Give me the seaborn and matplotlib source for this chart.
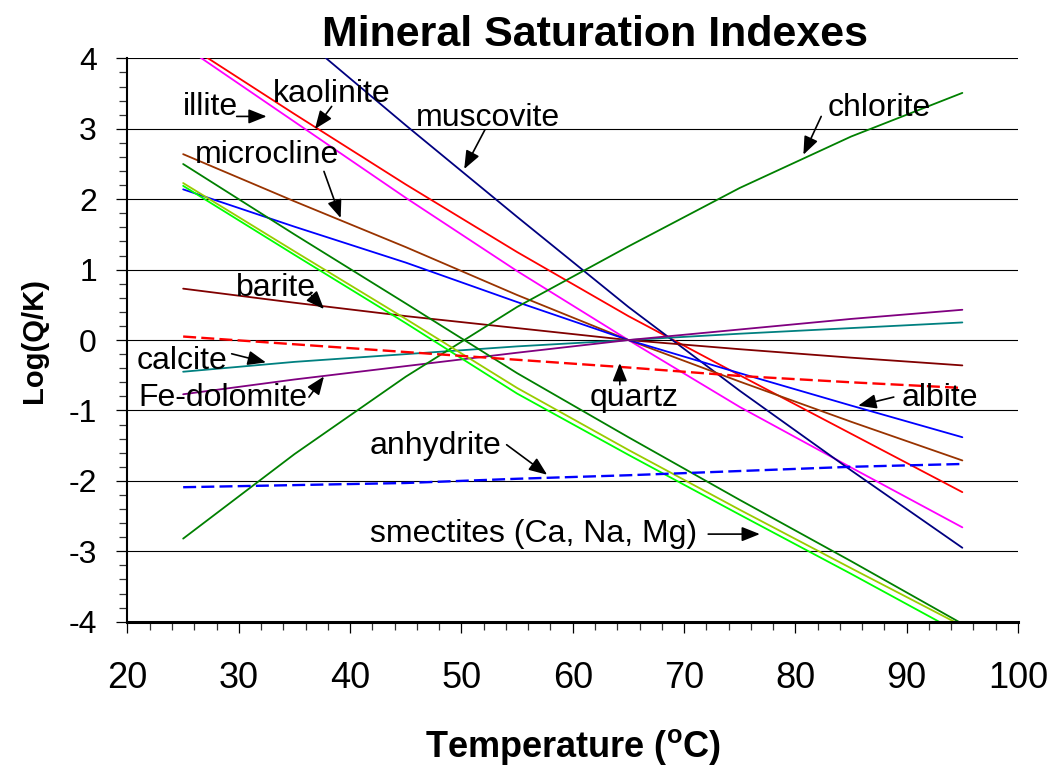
import numpy as np
import pandas as pd
import matplotlib
matplotlib.use("Agg")
import matplotlib.pyplot as plt
import seaborn as sns

# Temperatures (°C) at which saturation indexes were computed
temperature = [25, 35, 45, 55, 65, 75, 85, 95]

# log(Q/K) for each mineral at those temperatures
illite = [4.18, 3.10, 2.02, 0.98, 0.00, -0.95, -1.81, -2.66]
kaolinite = [4.23, 3.21, 2.21, 1.25, 0.34, -0.50, -1.33, -2.16]
muscovite = [5.72, 4.38, 3.05, 1.75, 0.47, -0.72, -1.85, -2.95]
microcline = [2.64, 1.97, 1.32, 0.64, 0.00, -0.59, -1.16, -1.71]
albite = [2.14, 1.61, 1.10, 0.54, 0.00, -0.47, -0.93, -1.38]
barite = [0.73, 0.53, 0.34, 0.17, 0.00, -0.13, -0.25, -0.36]
quartz = [0.05, -0.06, -0.17, -0.28, -0.39, -0.51, -0.60, -0.68]
calcite = [-0.45, -0.31, -0.20, -0.09, 0.00, 0.09, 0.17, 0.25]
fe_dolomite = [-0.77, -0.56, -0.37, -0.18, 0.00, 0.15, 0.30, 0.43]
anhydrite = [-2.09, -2.06, -2.03, -1.97, -1.92, -1.86, -1.80, -1.76]
chlorite = [-2.82, -1.62, -0.52, 0.47, 1.33, 2.16, 2.89, 3.51]
smectite_ca = [2.50, 1.50, 0.52, -0.47, -1.38, -2.27, -3.14, -4.03]
smectite_na = [2.23, 1.26, 0.30, -0.68, -1.56, -2.41, -3.24, -4.06]
smectite_mg = [2.19, 1.21, 0.24, -0.76, -1.63, -2.48, -3.32, -4.18]

x_ticks = [20, 30, 40, 50, 60, 70, 80, 90, 100]
y_ticks = [-4, -3, -2, -1, 0, 1, 2, 3, 4]

series = {
    "illite": illite,
    "kaolinite": kaolinite,
    "muscovite": muscovite,
    "microcline": microcline,
    "albite": albite,
    "barite": barite,
    "quartz": quartz,
    "calcite": calcite,
    "Fe-dolomite": fe_dolomite,
    "anhydrite": anhydrite,
    "chlorite": chlorite,
    "smectite-Ca": smectite_ca,
    "smectite-Na": smectite_na,
    "smectite-Mg": smectite_mg,
}
colors = {
    "illite": "#FF00FF",
    "kaolinite": "#FF0000",
    "muscovite": "#000080",
    "microcline": "#993300",
    "albite": "#0000FF",
    "barite": "#800000",
    "quartz": "#FF0000",
    "calcite": "#008080",
    "Fe-dolomite": "#800080",
    "anhydrite": "#0000FF",
    "chlorite": "#008000",
    "smectite-Ca": "#008000",
    "smectite-Na": "#99CC00",
    "smectite-Mg": "#00FF00",
}
dash_pattern = {"quartz": (5.5, 2.2), "anhydrite": (5.5, 2.2)}

df = pd.DataFrame(
    [(t, v, name) for name, vals in series.items() for t, v in zip(temperature, vals)],
    columns=["Temperature", "logQK", "mineral"],
)
solid_df = df[~df["mineral"].isin(dash_pattern)]
dash_df = df[df["mineral"].isin(dash_pattern)]

sns.set_style("ticks")
plt.rcParams["font.family"] = ["Liberation Sans", "DejaVu Sans"]
plt.rcParams["mathtext.fontset"] = "custom"
plt.rcParams["mathtext.rm"] = "Liberation Sans"
plt.rcParams["mathtext.bf"] = "Liberation Sans:bold"
plt.rcParams["axes.unicode_minus"] = False
for key in ("text.color", "axes.labelcolor", "xtick.color", "ytick.color",
            "xtick.labelcolor", "ytick.labelcolor"):
    plt.rcParams[key] = "black"

fig = plt.figure(figsize=(10.53, 7.66), dpi=100)
ax = fig.add_axes([0.12108, 0.18838, 0.84568, 0.73538])

sns.lineplot(data=solid_df, x="Temperature", y="logQK", hue="mineral",
             palette=colors, linewidth=1.3, legend=False, ax=ax, sort=False)
sns.lineplot(data=dash_df, x="Temperature", y="logQK", hue="mineral",
             style="mineral", dashes=dash_pattern,
             palette=colors, linewidth=1.7, legend=False, ax=ax, sort=False)

ax.set_xlim(20, 100)
ax.set_ylim(-4, 4)
ax.set_xticks(x_ticks)
ax.set_xticks(np.arange(20, 101, 2), minor=True)
ax.set_yticks(y_ticks)
ax.set_yticks(np.arange(-4, 4.01, 0.2), minor=True)
ax.set_xticklabels([str(v) for v in x_ticks])
ax.set_yticklabels([str(v) for v in y_ticks])

ax.yaxis.grid(True, which="major", color="black", linewidth=0.8)
ax.xaxis.grid(False)
ax.set_axisbelow(True)

for side in ("top", "right"):
    ax.spines[side].set_visible(False)
ax.spines["left"].set_linewidth(1.5)
ax.spines["bottom"].set_linewidth(2.2)
ax.spines["left"].set_color("black")
ax.spines["bottom"].set_color("black")

ax.tick_params(which="major", direction="out", length=8, width=0.9, color="black")
ax.tick_params(which="minor", direction="out", length=5.5, width=0.9, color="#333333")
ax.tick_params(axis="y", which="major", labelsize=23, pad=14, labelcolor="black")
ax.tick_params(axis="x", which="major", labelsize=26, pad=20, labelcolor="black")

ax.set_xlabel(r"Temperature ($\mathbf{^{o}}$C)", fontsize=26, fontweight="bold",
              va="baseline", color="black")
ax.xaxis.set_label_coords(0.5, -0.240)
ax.set_ylabel("Log(Q/K)", fontsize=21, fontweight="bold", va="center", color="black")
ax.yaxis.set_label_coords(-0.105, 0.5)

fig.text(0.565, 1 - 46 / 766, "Mineral Saturation Indexes", fontsize=31,
         fontweight="bold", ha="center", va="baseline", color="black")

# mineral name, text anchor (left, baseline), arrow tail, arrow head
notes = [
    ("illite", (25.01, 3.20), (29.81, 3.176), (32.50, 3.176)),
    ("kaolinite", (33.10, 3.375), (38.34, 3.318), (36.84, 2.997)),
    ("muscovite", (45.91, 3.034), (52.11, 2.987), (50.25, 2.429)),
    ("microcline", (26.06, 2.514), (37.65, 2.395), (39.15, 1.733)),
    ("chlorite", (82.92, 3.176), (82.32, 3.176), (80.72, 2.632)),
    ("barite", (29.745, 0.619), (36.54, 0.629), (37.65, 0.44)),
    ("calcite", (20.83, -0.408), (29.36, -0.195), (32.44, -0.318)),
    ("Fe-dolomite", (20.97, -0.943), (36.30, -0.81), (37.65, -0.517)),
    ("quartz", (61.54, -0.943), (64.23, -0.635), (64.23, -0.327)),
    ("albite", (89.53, -0.943), (88.84, -0.81), (85.64, -0.933)),
    ("anhydrite", (41.78, -1.615), (54.06, -1.487), (57.70, -1.913)),
    ("smectites (Ca, Na, Mg)", (41.78, -2.861), (72.17, -2.756), (76.81, -2.756)),
]
for label, (tx, ty), tail, head in notes:
    ax.text(tx, ty, label, fontsize=23, ha="left", va="baseline", color="black")
    ax.annotate("", xy=head, xytext=tail,
                arrowprops=dict(arrowstyle="-|>,head_length=0.55,head_width=0.22",
                                mutation_scale=20, color="black", lw=1.2,
                                shrinkA=0, shrinkB=0))

fig.savefig("out.png", dpi=100)
